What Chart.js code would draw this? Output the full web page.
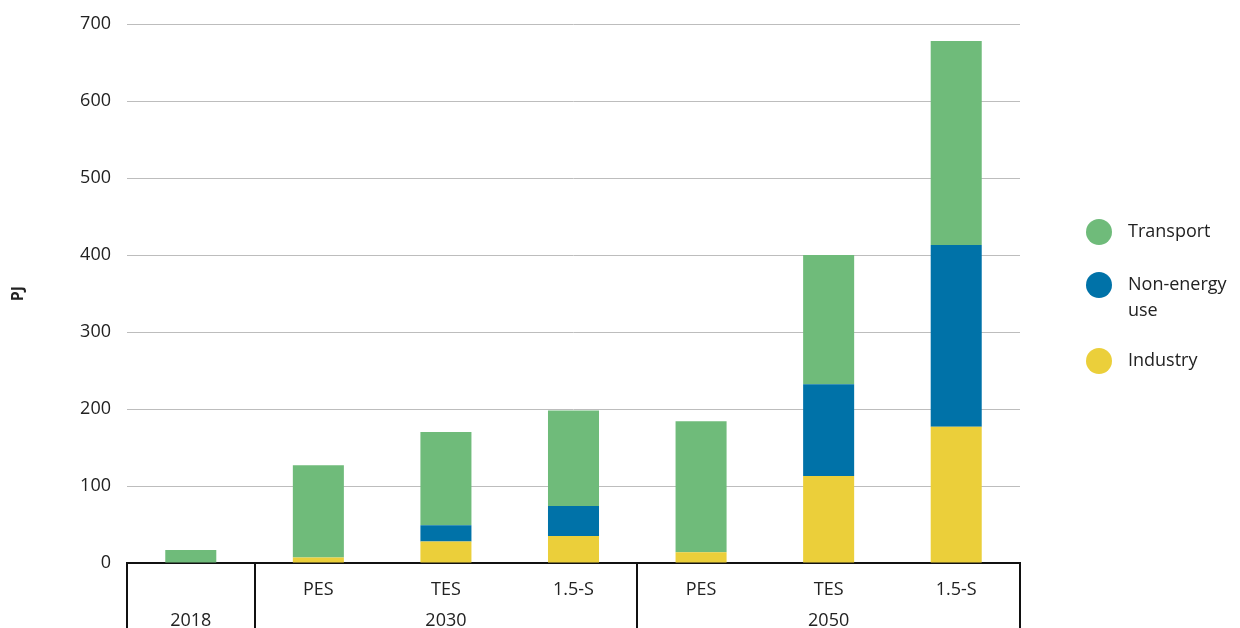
<!DOCTYPE html>
<html>
<head>
<meta charset="utf-8">
<script src="https://cdn.jsdelivr.net/npm/chart.js@4.4.0/dist/chart.umd.min.js"></script>
<style>
  html, body { margin: 0; padding: 0; background: #fff; }
  #wrap { width: 1240px; height: 628px; position: relative; }
</style>
</head>
<body>
<div id="wrap"><canvas id="c" width="1240" height="628"></canvas></div>
<script>
// ---- Data ----
const scenarios = ['', 'PES', 'TES', '1.5-S', 'PES', 'TES', '1.5-S'];
const years = ['2018', '2030', '2030', '2030', '2050', '2050', '2050'];
const industry = [0, 7, 28, 35, 14, 113, 177];
const nonEnergy = [0, 0, 21, 39, 0, 119, 236];
const transport = [17, 120, 121, 124, 170, 168, 265];
const yTicks = [0, 100, 200, 300, 400, 500, 600, 700];
const seriesNames = ['Industry', 'Non-energy use', 'Transport'];
const legendNames = [['Transport'], ['Non-energy', 'use'], ['Industry']];

const colors = { industry: '#ebcf3a', nonEnergy: '#0072a8', transport: '#6fbb7a' };
const FONT = '"Open Sans", sans-serif';

// Build two-level labels: year shown under the middle item of each group
function buildLabels() {
  const labels = [];
  for (let i = 0; i < scenarios.length; i++) {
    let s = i, e = i;
    while (s > 0 && years[s - 1] === years[i]) s--;
    while (e < years.length - 1 && years[e + 1] === years[i]) e++;
    const mid = Math.floor((s + e) / 2);
    labels.push([scenarios[i], i === mid ? years[i] : '']);
  }
  return labels;
}

const groupLines = {
  id: 'groupLines',
  afterDraw(chart) {
    const x = chart.scales.x, ctx = chart.ctx;
    const half = (x.getPixelForValue(1) - x.getPixelForValue(0)) / 2;
    const bounds = [];
    for (let i = 0; i < years.length; i++) {
      if (i === 0 || years[i] !== years[i - 1]) bounds.push(x.getPixelForValue(i) - half);
    }
    bounds.push(x.getPixelForValue(years.length - 1) + half);
    ctx.save();
    ctx.strokeStyle = '#111';
    ctx.lineWidth = 2;
    const y0 = chart.chartArea.bottom;
    bounds.forEach(b => {
      ctx.beginPath();
      ctx.moveTo(Math.round(b), y0);
      ctx.lineTo(Math.round(b), chart.height);
      ctx.stroke();
    });
    ctx.restore();
  }
};

const sideLegend = {
  id: 'sideLegend',
  afterDraw(chart) {
    const ctx = chart.ctx;
    const cols = [colors.transport, colors.nonEnergy, colors.industry];
    const ys = [232, 285, 361];
    ctx.save();
    ctx.font = '18px ' + FONT;
    ctx.textBaseline = 'middle';
    ctx.textAlign = 'left';
    legendNames.forEach((lines, i) => {
      ctx.fillStyle = cols[i];
      ctx.beginPath();
      ctx.arc(1099, ys[i], 13, 0, Math.PI * 2);
      ctx.fill();
      ctx.fillStyle = '#222';
      lines.forEach((t, j) => ctx.fillText(t, 1128, ys[i] + j * 26));
    });
    ctx.restore();
  }
};

new Chart(document.getElementById('c'), {
  type: 'bar',
  data: {
    labels: buildLabels(),
    datasets: [
      { label: seriesNames[0], data: industry, backgroundColor: colors.industry },
      { label: seriesNames[1], data: nonEnergy, backgroundColor: colors.nonEnergy },
      { label: seriesNames[2], data: transport, backgroundColor: colors.transport }
    ]
  },
  options: {
    responsive: false,
    animation: false,
    devicePixelRatio: 1,
    layout: { padding: { top: 24, right: 220, bottom: 0, left: 0 } },
    datasets: { bar: { categoryPercentage: 1, barPercentage: 0.4 } },
    plugins: { legend: { display: false }, tooltip: { enabled: false } },
    scales: {
      x: {
        stacked: true,
        grid: { display: false, drawTicks: false },
        border: { display: true, color: '#111', width: 2 },
        ticks: {
          font: { family: FONT, size: 18, lineHeight: 1.72 },
          color: '#222',
          padding: 11,
          maxRotation: 0,
          autoSkip: false
        },
        afterFit(s) { s.height = 65; }
      },
      y: {
        stacked: true,
        min: 0, max: 700,
        afterBuildTicks(s) { s.ticks = yTicks.map(v => ({ value: v })); },
        grid: { color: '#bdbdbd', lineWidth: 1, drawTicks: false },
        border: { display: false },
        ticks: {
          font: { family: FONT, size: 18, lineHeight: 1 },
          color: '#222',
          padding: 16
        },
        title: {
          display: true,
          text: 'PJ',
          font: { family: FONT, size: 16, weight: 'bold' },
          color: '#222',
          padding: { top: 9, bottom: 0 }
        },
        afterFit(s) { s.width = 127; s.paddingTop = 0; s.paddingBottom = 0; }
      }
    }
  },
  plugins: [groupLines, sideLegend]
});
</script>
</body>
</html>
